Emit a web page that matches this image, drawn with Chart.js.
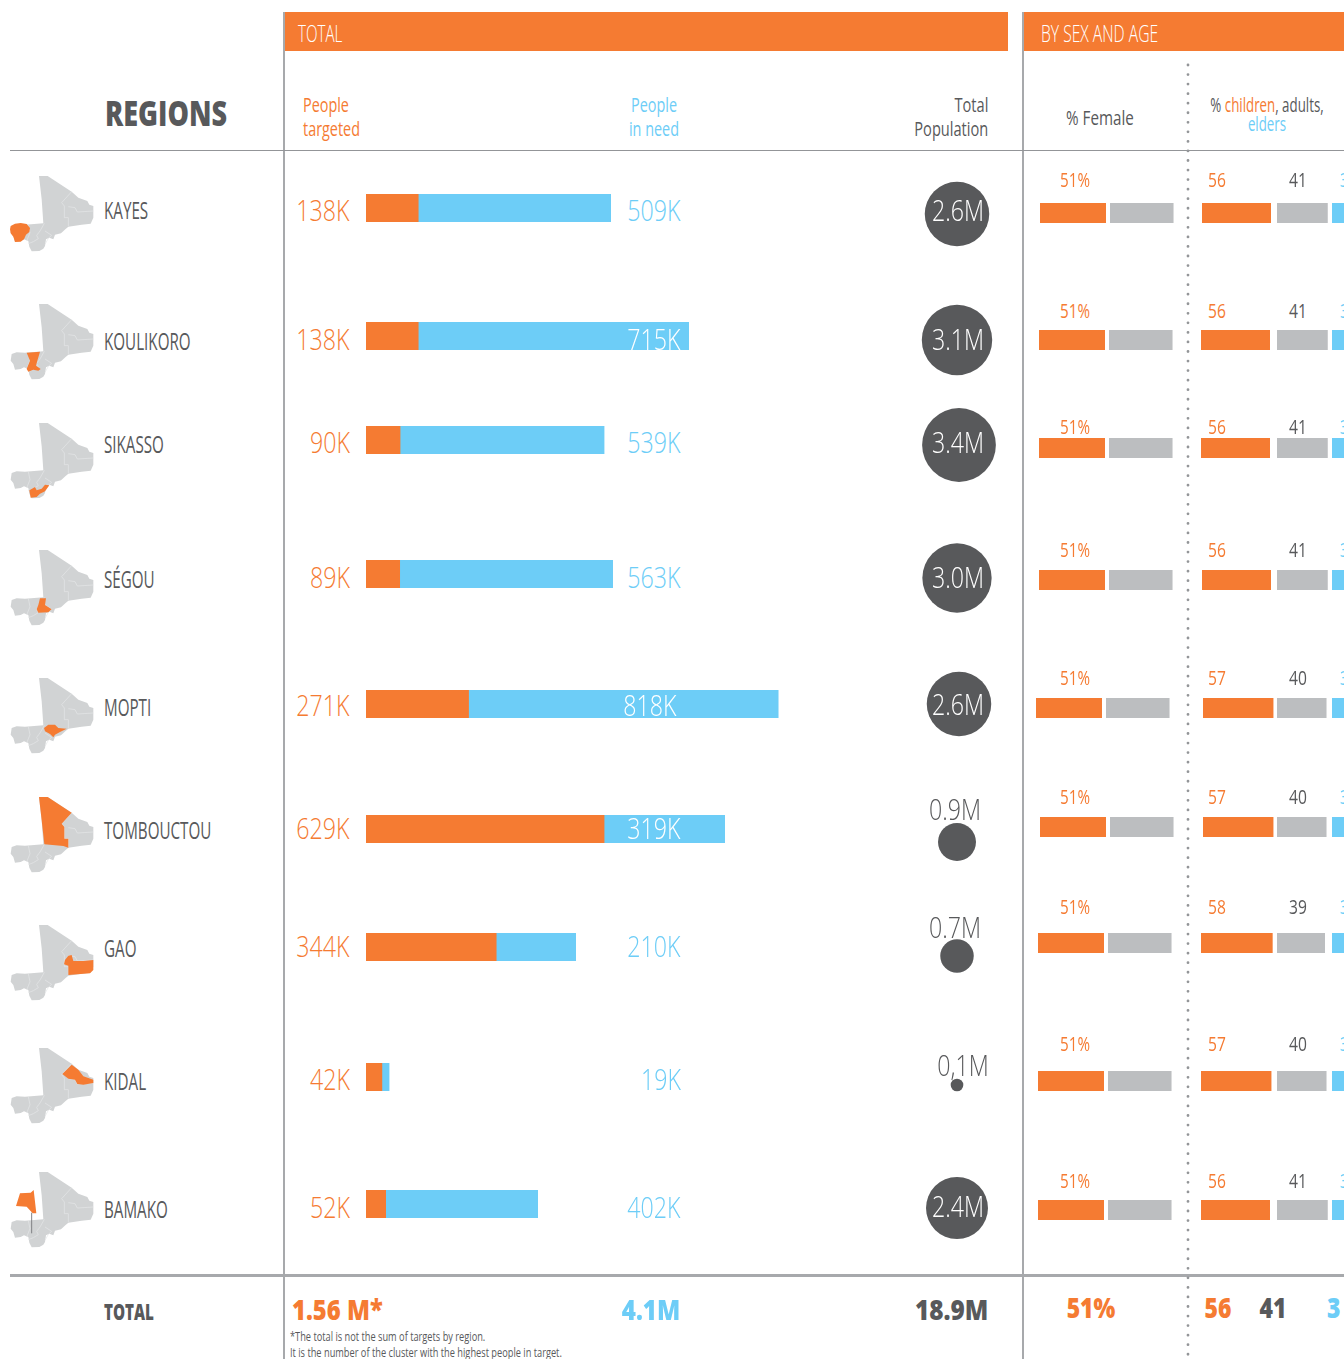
<!DOCTYPE html>
<html>
<head>
<meta charset="utf-8">
<title>Regions</title>
<script src="https://cdn.jsdelivr.net/npm/chart.js@4"></script>
<style>
html, body { margin: 0; padding: 0; background: #fff; }
#page { position: relative; width: 1344px; height: 1359px; overflow: hidden; background: #fff; }
#page canvas, #page svg { position: absolute; }
.txt { position: absolute; white-space: nowrap; line-height: 1; font-family: "Open Sans", sans-serif; font-weight: 300; z-index: 5; }
.rule { position: absolute; background: #a7a9ac; }
.band { position: absolute; background: #f57b32; top: 12px; height: 39px; }
</style>
</head>
<body>
<div id="page"></div>
<script>
// data
var regions = ['KAYES', 'KOULIKORO', 'SIKASSO', 'SÉGOU', 'MOPTI', 'TOMBOUCTOU', 'GAO', 'KIDAL', 'BAMAKO'];
var targeted = [138, 138, 90, 89, 271, 629, 344, 42, 52];
var inNeed = [509, 715, 539, 563, 818, 319, 210, 19, 402];
var population = [2.6, 3.1, 3.4, 3.0, 2.6, 0.9, 0.7, 0.1, 2.4];
var populationLabels = ['2.6M', '3.1M', '3.4M', '3.0M', '2.6M', '0.9M', '0.7M', '0,1M', '2.4M'];
var female = [51, 51, 51, 51, 51, 51, 51, 51, 51];
var male = [49, 49, 49, 49, 49, 49, 49, 49, 49];
var children = [56, 56, 56, 56, 57, 57, 58, 57, 56];
var adults = [41, 41, 41, 41, 40, 40, 39, 40, 41];
var elders = [3, 3, 3, 3, 3, 3, 3, 3, 3];
// the elders bar is cut by the page edge and is drawn longer than its label
var eldersBar = [11, 11, 11, 11, 11, 11, 11, 11, 11];

var ORANGE = '#f57b32', BLUE = '#6dcdf7', GREY = '#bcbec0', DARK = '#58595b';

// layout of each row, kept apart from the data
var mapTop = [176, 304, 423, 550, 678, 797, 925, 1048, 1172];
var nameY = [210, 341, 444, 579, 707, 830, 948, 1081, 1209];
var barTop = [194, 322, 426, 560, 690, 815, 933, 1063, 1190];
var valueY = [209, 338, 441, 576, 704, 827, 945, 1078, 1206];
var bubbleX = [957, 957, 959, 957, 959, 957, 957, 957, 957];
var bubbleY = [214, 340, 445, 578, 704, 842, 956, 1085, 1208];
var popY = [209, 338, 441, 576, 703, 808, 926, 1064, 1205];
var popX = [958, 958, 958, 958, 958, 955, 955, 963, 958];
var sexTop = [203, 330, 438, 570, 698, 817, 933, 1071, 1200];
var sexX = [1040, 1039, 1039, 1039, 1036, 1040, 1038, 1038, 1038];
var ageX = [1202, 1201, 1201, 1202, 1203, 1203, 1201, 1201, 1201];
var pctY = [180, 311, 427, 550, 678, 797, 907, 1044, 1181];

var PX_PER_K = 0.3785, PX_PER_SEX = 1.29, PX_PER_AGE = 1.23, SQUEEZE = 0.8;

var page = document.getElementById('page');

function text(str, x, y, size, color, align, opts) {
    opts = opts || {};
    var el = document.createElement('div');
    el.className = 'txt';
    el.innerHTML = str;
    el.style.fontSize = size + 'px';
    el.style.color = color;
    el.style.top = y + 'px';
    if (opts.weight) el.style.fontWeight = opts.weight;
    var k = opts.squeeze || SQUEEZE;
    if (align === 'right') {
        el.style.right = (1344 - x) + 'px';
        el.style.transformOrigin = 'right center';
        el.style.transform = 'translateY(-50%) scaleX(' + k + ')';
    } else if (align === 'center') {
        el.style.left = x + 'px';
        el.style.transform = 'translate(-50%,-50%) scaleX(' + k + ')';
    } else {
        el.style.left = x + 'px';
        el.style.transformOrigin = 'left center';
        el.style.transform = 'translateY(-50%) scaleX(' + k + ')';
    }
    page.appendChild(el);
}

function rule(cls, x, y, w, h, color) {
    var el = document.createElement('div');
    el.className = cls;
    el.style.left = x + 'px';
    if (y !== null) el.style.top = y + 'px';
    el.style.width = w + 'px';
    if (h !== null) el.style.height = h + 'px';
    if (color) el.style.background = color;
    page.appendChild(el);
}

function makeCanvas(x, y, w, h) {
    var c = document.createElement('canvas');
    c.width = w;
    c.height = h;
    c.style.left = x + 'px';
    c.style.top = y + 'px';
    c.style.width = w + 'px';
    c.style.height = h + 'px';
    page.appendChild(c);
    return c;
}

// one horizontal stacked bar, width in px comes from the x scale
function bar(x, y, h, values, colors, pxPerUnit) {
    var total = values.reduce(function (a, b) { return a + b; }, 0);
    var w = Math.ceil(total * pxPerUnit);
    new Chart(makeCanvas(x, y, w, h), {
        type: 'bar',
        data: {
            labels: [''],
            datasets: values.map(function (v, i) {
                return { data: [v], backgroundColor: colors[i], borderWidth: 0, categoryPercentage: 1, barPercentage: 1 };
            })
        },
        options: {
            indexAxis: 'y',
            responsive: false,
            animation: false,
            layout: { padding: 0 },
            plugins: { legend: { display: false }, tooltip: { enabled: false } },
            scales: {
                x: { display: false, stacked: true, min: 0, max: w / pxPerUnit },
                y: { display: false, stacked: true }
            }
        }
    });
}

function bubble(cx, cy, value) {
    var size = 84;
    new Chart(makeCanvas(cx - size / 2, cy - size / 2, size, size), {
        type: 'bubble',
        data: {
            datasets: [{
                data: [{ x: 0, y: 0, r: 20 * Math.sqrt(value) }],
                backgroundColor: DARK,
                borderWidth: 0,
                clip: false
            }]
        },
        options: {
            responsive: false,
            animation: false,
            layout: { padding: 0 },
            plugins: { legend: { display: false }, tooltip: { enabled: false } },
            scales: {
                x: { display: false, min: -1, max: 1 },
                y: { display: false, min: -1, max: 1 }
            }
        }
    });
}

// small Mali locator maps, drawn in a 300x240 box
var maliOutline = 'M117,0 L143,0 L215,47 L235,65 L262,75 L268,86 L280,90 L280,125 L272,143 L245,146 L205,152 L196,160 L183,172 L165,176 L160,190 L148,185 L138,190 L135,210 L130,218 L118,225 L95,226 L88,212 L85,195 L72,190 L62,195 L45,197 L40,180 L32,170 L35,150 L50,145 L75,146 L130,142 L125,70 Z';
var maliInner = 'M215,47 L185,80 L193,90 L193,125 L205,125 L205,150 M205,92 L225,95 L232,108 L280,105 M133,142 L120,165 L110,178 L115,188 L100,197 L85,203 M85,146 L90,170 L80,195 M135,165 L155,178 L145,187 L135,205';
var regionShapes = [
    'M32,150 L45,143 L62,141 L80,144 L90,156 L88,168 L78,176 L72,190 L62,197 L45,198 L40,182 L32,172 L30,160 Z',
    'M80,146 L120,143 L112,170 L108,185 L122,195 L115,200 L100,197 L85,203 L80,195 L90,170 Z',
    'M88,202 L105,192 L110,202 L125,197 L135,185 L148,187 L135,205 L120,212 L110,222 L92,224 Z',
    'M120,145 L138,145 L135,165 L155,178 L145,187 L115,188 L110,178 L115,165 Z',
    'M145,140 L165,140 L175,150 L200,152 L180,162 L165,170 L160,178 L150,168 L135,160 L132,150 Z',
    'M117,0 L143,0 L215,47 L185,80 L193,90 L193,125 L205,125 L205,152 L190,147 L133,142 L125,70 Z',
    'M205,92 L215,90 L220,108 L250,108 L280,105 L280,135 L270,145 L205,150 L205,122 L192,118 L195,105 Z',
    'M215,50 L235,65 L250,85 L265,90 L280,95 L280,105 L250,110 L232,108 L225,95 L205,92 L187,78 Z',
    'M48,102 L60,64 L92,62 L101,54 L109,124 L98,124 L80,104 Z'
];

function drawMap(i) {
    var extra = i === 8 ? '<path d="M95,122 L95,184" stroke="#808285" stroke-width="3" fill="none"/>' : '';
    var svg = '<svg xmlns="http://www.w3.org/2000/svg" width="100" height="80" viewBox="0 0 300 240" style="left:0;top:' + mapTop[i] + 'px">' +
        '<path d="' + maliOutline + '" fill="#d1d3d4"/>' +
        '<path d="' + maliInner + '" fill="none" stroke="#e6e7e8" stroke-width="2"/>' +
        '<path d="' + regionShapes[i] + '" fill="' + ORANGE + '"/>' + extra + '</svg>';
    page.insertAdjacentHTML('beforeend', svg);
}

// frame
rule('band', 285, 12, 723, 39);
rule('band', 1024, 12, 320, 39);
rule('rule', 283, 12, 1.5, 1347);
rule('rule', 1022, 12, 1.5, 1347);
rule('rule', 10, 150, 1334, 1.2, '#939598');
rule('rule', 10, 1274, 1334, 2.5);
page.insertAdjacentHTML('beforeend', '<svg xmlns="http://www.w3.org/2000/svg" width="6" height="1359" style="left:1185px;top:0"><line x1="3" y1="65" x2="3" y2="1359" stroke="#939598" stroke-width="2.8" stroke-linecap="round" stroke-dasharray="0 9.55"/></svg>');

// headers
text('TOTAL', 298, 33, 24, '#fff', 'left', { squeeze: 0.63 });
text('BY SEX AND AGE', 1041, 33, 24, '#fff', 'left', { squeeze: 0.653 });
text('REGIONS', 105, 113, 36, DARK, 'left', { weight: 800, squeeze: 0.75 });
text('People', 303, 105, 20, ORANGE, 'left', { weight: 400, squeeze: 0.72 });
text('targeted', 303, 129, 20, ORANGE, 'left', { weight: 400, squeeze: 0.72 });
text('People', 654, 105, 20, BLUE, 'center', { weight: 400, squeeze: 0.72 });
text('in need', 654, 129, 20, BLUE, 'center', { weight: 400, squeeze: 0.72 });
text('Total', 988, 105, 20, DARK, 'right', { weight: 400, squeeze: 0.73 });
text('Population', 988, 129, 20, DARK, 'right', { weight: 400, squeeze: 0.73 });
text('% Female', 1100, 118, 20, DARK, 'center', { weight: 400, squeeze: 0.76 });
text('% <span style="color:' + ORANGE + '">children</span>, adults,', 1267, 105, 20, DARK, 'center', { weight: 400, squeeze: 0.665 });
text('elders', 1267, 124, 20, BLUE, 'center', { weight: 400, squeeze: 0.665 });

// rows
regions.forEach(function (name, i) {
    drawMap(i);
    text(name, 104, nameY[i], 23, DARK, 'left', { weight: 400, squeeze: 0.66 });

    bar(366, barTop[i], 28, [targeted[i], inNeed[i]], [ORANGE, BLUE], PX_PER_K);
    text(targeted[i] + 'K', 350, valueY[i], 29, ORANGE, 'right');
    var onBar = inNeed[i] === 715 || inNeed[i] === 818 || inNeed[i] === 319;
    text(inNeed[i] + 'K', inNeed[i] === 818 ? 677 : 681, valueY[i], 29, onBar ? '#fff' : BLUE, 'right');

    bubble(bubbleX[i], bubbleY[i], population[i]);
    text(populationLabels[i], popX[i], popY[i], 29, population[i] < 1 ? DARK : '#fff', 'center');

    bar(sexX[i], sexTop[i], 20, [female[i]], [ORANGE], PX_PER_SEX);
    bar(sexX[i] + 70, sexTop[i], 20, [male[i]], [GREY], PX_PER_SEX);
    text(female[i] + '%', 1075, pctY[i], 20, ORANGE, 'center', { weight: 400, squeeze: 0.76 });

    bar(ageX[i], sexTop[i], 20, [children[i]], [ORANGE], PX_PER_AGE);
    bar(1277, sexTop[i], 20, [adults[i]], [GREY], PX_PER_AGE);
    bar(1332, sexTop[i], 20, [eldersBar[i]], [BLUE], PX_PER_AGE);
    text(String(children[i]), 1217, pctY[i], 20, ORANGE, 'center', { weight: 400, squeeze: 0.78 });
    text(String(adults[i]), 1298, pctY[i], 20, DARK, 'center', { weight: 400, squeeze: 0.78 });
    text(String(elders[i]), 1340, pctY[i], 20, BLUE, 'left', { weight: 400, squeeze: 0.78 });
});

// totals row
text('TOTAL', 104, 1311, 22, DARK, 'left', { weight: 800, squeeze: 0.69 });
text('1.56 M*', 292, 1309, 28, ORANGE, 'left', { weight: 800, squeeze: 0.85 });
text('*The total is not the sum of targets by region.', 290, 1337, 12, DARK, 'left', { weight: 400, squeeze: 0.77 });
text('It is the number of the cluster with the highest people in target.', 290, 1353, 12, DARK, 'left', { weight: 400, squeeze: 0.77 });
text('4.1M', 651, 1309, 28, BLUE, 'center', { weight: 800, squeeze: 0.86 });
text('18.9M', 988, 1309, 28, DARK, 'right', { weight: 800, squeeze: 0.87 });
text('51%', 1091, 1307, 28, ORANGE, 'center', { weight: 800, squeeze: 0.82 });
text('56', 1218, 1307, 28, ORANGE, 'center', { weight: 800, squeeze: 0.82 });
text('41', 1273, 1307, 28, DARK, 'center', { weight: 800, squeeze: 0.82 });
text('3', 1327, 1307, 28, BLUE, 'left', { weight: 800, squeeze: 0.82 });
</script>
</body>
</html>
